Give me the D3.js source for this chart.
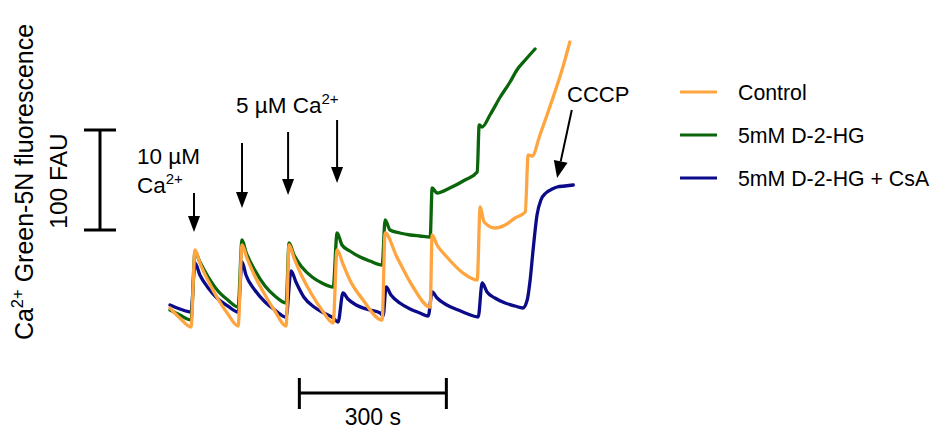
<!DOCTYPE html>
<html>
<head>
<meta charset="utf-8">
<script src="https://cdn.jsdelivr.net/npm/d3@7"></script>
<style>
  body { margin: 0; background: #fff; }
  svg text { font-family: "Liberation Sans", Arial, sans-serif; fill: #000; }
</style>
</head>
<body>
<div id="chart"></div>
<script>
// Traces as [time (s), fluorescence (FAU, arbitrary offset)]
const controlTrace = [
    [0,22],[20,12],[43,3],
    [51,80],[61,67],[78,49],[98,31],[118,16],[139,4],
    [147,85],[157,72],[173,54],[194,35],[214,19],[237,4],
    [243,85],[253,72],[269,54],[290,35],[310,20],[333,7],
    [341,80],[353,66],[367,50],[394,30],[433,10],
    [439,97],[463,73],[496,43],[531,23],
    [535,95],[545,85],[565,73],[598,57],[627,50],
    [633,123],[641,108],[663,102],[684,105],[704,112],[725,118],
    [731,175],[739,174],[755,195],[782,233],[800,260],[816,288]
];
const hgTrace = [
    [0,20],[20,15],[43,10],
    [51,78],[61,68],[78,53],[98,39],[118,30],[139,23],
    [147,90],[155,78],[173,60],[194,44],[214,34],[237,27],
    [243,87],[253,75],[269,63],[290,53],[310,47],[333,43],
    [341,97],[351,85],[367,79],[388,73],[408,69],[433,65],
    [439,110],[449,100],[469,97],[490,95],[510,94],[531,93],
    [535,142],[545,137],[571,142],[602,150],[627,158],
    [631,205],[637,203],[653,215],[674,233],[694,248],[708,260],[725,270],[745,281]
];
const hgCsaTrace = [
    [0,25],[20,21],[43,18],
    [51,67],[61,55],[78,42],[98,31],[118,24],[139,18],
    [147,68],[155,55],[173,40],[194,28],[214,20],[237,13],
    [247,59],[257,48],[273,33],[294,23],[314,17],[333,12],
    [343,8],[353,37],[363,31],[380,25],[400,21],[429,17],
    [435,14],[441,43],[451,35],[469,27],[490,21],[510,17],[527,14],
    [535,38],[545,32],[565,25],[588,20],[608,16],[629,13],
    [637,47],[647,38],[663,32],[684,27],[704,24],[720,22],
    [729,30],[735,50],[741,80],[749,115],[757,130],[767,137],[780,141],[790,143],[806,144],[823,145]
];

const seriesNames = ['Control', '5mM D-2-HG', '5mM D-2-HG + CsA'];
const seriesColors = ['#FFA53F', '#0B650B', '#0B0B8A'];

// Ca2+ additions: [time, arrow top FAU, arrow tip FAU]
const caAdditions = [[49,137,98],[147,187,122],[241,198,135],[341,210,147]];
// CCCP arrow: [tail time, tail FAU, tip time, tip FAU]
const cccpArrow = [820, 220, 790, 152];

// Scale bars
const timeBar = [264, 564];   // 300 s
const fauBar = [100, 200];    // 100 FAU

const width = 931, height = 431;

const svg = d3.select('#chart')
    .append('svg')
    .attr('width', width)
    .attr('height', height);

const x = d3.scaleLinear().domain([0, 900]).range([170, 611]);
const y = d3.scaleLinear().domain([0, 300]).range([330, 30]);

// Traces (drawn back to front)
const line = d3.line()
    .x(d => x(d[0]))
    .y(d => y(d[1]))
    .curve(d3.curveMonotoneX);

const traces = [hgCsaTrace, hgTrace, controlTrace];
const traceColors = [seriesColors[2], seriesColors[1], seriesColors[0]];
traces.forEach((t, i) => {
    svg.append('path')
        .datum(t)
        .attr('d', line)
        .attr('fill', 'none')
        .attr('stroke', traceColors[i])
        .attr('stroke-width', 3.3)
        .attr('stroke-linejoin', 'round')
        .attr('stroke-linecap', 'round');
});

// Addition arrows
caAdditions.forEach(a => {
    svg.append('line')
        .attr('x1', x(a[0])).attr('x2', x(a[0]))
        .attr('y1', y(a[1])).attr('y2', y(a[2]) - 15)
        .attr('stroke', '#000').attr('stroke-width', 2);
    svg.append('path')
        .attr('d', `M${x(a[0]) - 6},${y(a[2]) - 16} L${x(a[0]) + 6},${y(a[2]) - 16} L${x(a[0])},${y(a[2])} Z`)
        .attr('fill', '#000');
});

// CCCP arrow
{
    const x1 = x(cccpArrow[0]), y1 = y(cccpArrow[1]);
    const x2 = x(cccpArrow[2]), y2 = y(cccpArrow[3]);
    const ang = Math.atan2(y2 - y1, x2 - x1);
    const hl = 17, hw = 7;
    const bx = x2 - hl * Math.cos(ang), by = y2 - hl * Math.sin(ang);
    svg.append('line')
        .attr('x1', x1).attr('y1', y1).attr('x2', bx).attr('y2', by)
        .attr('stroke', '#000').attr('stroke-width', 2);
    svg.append('path')
        .attr('d', `M${x2},${y2} L${bx - hw * Math.sin(ang)},${by + hw * Math.cos(ang)} L${bx + hw * Math.sin(ang)},${by - hw * Math.cos(ang)} Z`)
        .attr('fill', '#000');
}

// Annotation text
const t10 = svg.append('text').attr('x', 137).attr('y', 164).style('font-size', '22.5px');
t10.append('tspan').text('10 \u00B5M');
const tCa = svg.append('text').attr('x', 137).attr('y', 193).style('font-size', '22.5px');
tCa.append('tspan').text('Ca');
tCa.append('tspan').attr('dy', -9).style('font-size', '15px').text('2+');

const t5 = svg.append('text').attr('x', 236).attr('y', 113).style('font-size', '22.5px');
t5.append('tspan').text('5 \u00B5M Ca');
t5.append('tspan').attr('dy', -9).style('font-size', '15px').text('2+');

svg.append('text').attr('x', 567).attr('y', 102).style('font-size', '22px').text('CCCP');

// Vertical scale bar (100 FAU)
const vx = 100;
svg.append('line').attr('x1', vx).attr('x2', vx).attr('y1', y(fauBar[1])).attr('y2', y(fauBar[0]))
    .attr('stroke', '#000').attr('stroke-width', 3);
[fauBar[0], fauBar[1]].forEach(v => {
    svg.append('line').attr('x1', vx - 16).attr('x2', vx + 16).attr('y1', y(v)).attr('y2', y(v))
        .attr('stroke', '#000').attr('stroke-width', 3);
});

// Horizontal scale bar (300 s)
const hy = 393;
svg.append('line').attr('x1', x(timeBar[0])).attr('x2', x(timeBar[1])).attr('y1', hy).attr('y2', hy)
    .attr('stroke', '#000').attr('stroke-width', 3);
timeBar.forEach(v => {
    svg.append('line').attr('x1', x(v)).attr('x2', x(v)).attr('y1', hy - 15).attr('y2', hy + 16)
        .attr('stroke', '#000').attr('stroke-width', 3);
});
svg.append('text')
    .attr('x', (x(timeBar[0]) + x(timeBar[1])) / 2)
    .attr('y', 425)
    .attr('text-anchor', 'middle')
    .style('font-size', '23px')
    .text('300 s');

// Y label
const yl = svg.append('text')
    .attr('transform', 'translate(33,182) rotate(-90)')
    .attr('text-anchor', 'middle')
    .style('font-size', '25px');
yl.append('tspan').text('Ca');
yl.append('tspan').attr('dy', -10).style('font-size', '16.5px').text('2+');
yl.append('tspan').attr('dy', 10).text(' Green-5N fluorescence');

svg.append('text')
    .attr('transform', 'translate(67,181) rotate(-90)')
    .attr('text-anchor', 'middle')
    .style('font-size', '24.5px')
    .text('100 FAU');

// Legend
const legend = svg.append('g').attr('transform', 'translate(680,92)');
seriesNames.forEach((name, i) => {
    const g = legend.append('g').attr('transform', `translate(0,${i * 43})`);
    g.append('line').attr('x1', 0).attr('x2', 37).attr('y1', 0).attr('y2', 0)
        .attr('stroke', seriesColors[i]).attr('stroke-width', 3);
    g.append('text').attr('x', 58).attr('y', 7.5).style('font-size', '21.3px').text(name);
});
</script>
</body>
</html>
